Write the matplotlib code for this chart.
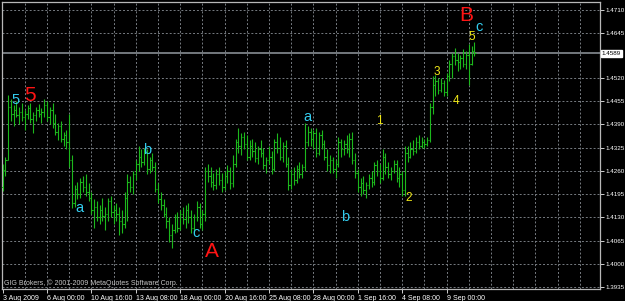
import numpy as np
import matplotlib
matplotlib.use('Agg')
import matplotlib.pyplot as plt
import matplotlib.transforms as mtransforms

# H4 bars, prices in 1e-4 units (pips)
opens = [
    14215, 14262, 14290, 14440, 14420, 14430, 14415, 14425, 14410, 14420,
    14435, 14405, 14415, 14430, 14418, 14425, 14445, 14410, 14430, 14395,
    14370, 14385, 14350, 14360, 14340, 14290, 14170, 14210, 14195, 14230,
    14215, 14200, 14185, 14150, 14160, 14130, 14150, 14135, 14140, 14175,
    14145, 14150, 14140, 14120, 14110, 14185, 14230, 14215, 14250, 14280,
    14300, 14285, 14310, 14265, 14290, 14270, 14210, 14180, 14165, 14140,
    14120, 14080, 14095, 14130, 14100, 14140, 14125, 14150, 14130, 14100,
    14130, 14160, 14110, 14140, 14260, 14245, 14230, 14220, 14250, 14235,
    14215, 14245, 14260, 14225, 14280, 14340, 14330, 14355, 14335, 14300,
    14330, 14315, 14295, 14320, 14310, 14275, 14290, 14300, 14265, 14340,
    14325, 14300, 14330, 14280, 14220, 14250, 14235, 14265, 14250, 14270,
    14340, 14370, 14350, 14365, 14310, 14360, 14335, 14300, 14275, 14290,
    14265, 14280, 14340, 14320, 14335, 14320, 14350, 14290, 14255, 14215,
    14225, 14205, 14220, 14240, 14230, 14275, 14260, 14240, 14300, 14270,
    14250, 14260, 14280, 14240, 14250, 14205, 14310, 14300, 14320, 14315,
    14340, 14330, 14340, 14335, 14345, 14440, 14500, 14510, 14485, 14505,
    14480, 14525, 14560, 14580, 14570, 14565, 14575, 14560, 14585, 14560,
    14595]
highs = [
    14280, 14300, 14471, 14460, 14445, 14455, 14440, 14450, 14430, 14445,
    14450, 14425, 14440, 14448, 14435, 14462, 14455, 14440, 14450, 14420,
    14395, 14400, 14370, 14375, 14420, 14305, 14220, 14230, 14240, 14245,
    14250, 14225, 14200, 14180, 14175, 14165, 14185, 14160, 14185, 14190,
    14165, 14170, 14160, 14150, 14200, 14250, 14245, 14260, 14290, 14330,
    14320, 14325, 14320, 14300, 14310, 14285, 14225, 14200, 14180, 14160,
    14130, 14110, 14140, 14145, 14150, 14160, 14165, 14170, 14150, 14140,
    14175, 14170, 14150, 14270, 14280, 14270, 14255, 14265, 14270, 14255,
    14260, 14275, 14270, 14305, 14350, 14380, 14365, 14370, 14360, 14345,
    14350, 14340, 14330, 14345, 14325, 14300, 14330, 14315, 14350, 14365,
    14355, 14340, 14345, 14300, 14265, 14270, 14275, 14285, 14280, 14395,
    14385, 14380, 14375, 14380, 14370, 14375, 14345, 14320, 14305, 14300,
    14290, 14355, 14350, 14345, 14360, 14365, 14370, 14310, 14265, 14240,
    14245, 14230, 14250, 14260, 14285, 14290, 14280, 14320, 14310, 14285,
    14270, 14290, 14290, 14270, 14260, 14330, 14330, 14340, 14345, 14355,
    14360, 14355, 14350, 14355, 14450, 14525, 14527, 14520, 14520, 14515,
    14535, 14570, 14590, 14605, 14590, 14585, 14600, 14595, 14615, 14610,
    14620]
lows = [
    14203, 14245, 14290, 14400, 14385, 14410, 14390, 14400, 14375, 14405,
    14395, 14365, 14400, 14410, 14395, 14410, 14400, 14390, 14380, 14360,
    14345, 14340, 14330, 14320, 14270, 14155, 14160, 14180, 14185, 14200,
    14190, 14175, 14140, 14100, 14120, 14110, 14120, 14095, 14120, 14130,
    14110, 14120, 14080, 14085, 14100, 14120, 14200, 14195, 14235, 14260,
    14270, 14275, 14250, 14255, 14260, 14200, 14170, 14150, 14130, 14100,
    14060, 14045, 14085, 14090, 14095, 14110, 14100, 14115, 14085, 14090,
    14120, 14100, 14095, 14120, 14230, 14215, 14205, 14210, 14220, 14200,
    14205, 14225, 14210, 14215, 14270, 14310, 14305, 14320, 14290, 14290,
    14300, 14285, 14280, 14300, 14265, 14255, 14280, 14250, 14260, 14310,
    14290, 14285, 14270, 14205, 14210, 14220, 14225, 14240, 14240, 14260,
    14330, 14330, 14320, 14300, 14305, 14320, 14290, 14260, 14255, 14255,
    14240, 14270, 14300, 14305, 14310, 14300, 14280, 14240, 14200, 14190,
    14195, 14185, 14210, 14215, 14220, 14245, 14225, 14235, 14250, 14240,
    14235, 14255, 14230, 14215, 14190, 14190, 14285, 14295, 14305, 14310,
    14320, 14325, 14325, 14330, 14340, 14420, 14470, 14475, 14480, 14470,
    14470, 14510, 14520, 14555, 14540, 14545, 14550, 14545, 14500, 14555,
    14580]
closes = [
    14262, 14290, 14440, 14420, 14430, 14415, 14425, 14410, 14420, 14435,
    14405, 14415, 14430, 14418, 14425, 14445, 14410, 14430, 14395, 14370,
    14385, 14350, 14360, 14340, 14290, 14170, 14210, 14195, 14230, 14215,
    14200, 14185, 14150, 14160, 14130, 14150, 14135, 14140, 14175, 14145,
    14150, 14140, 14120, 14110, 14185, 14230, 14215, 14250, 14280, 14300,
    14285, 14310, 14265, 14290, 14270, 14210, 14180, 14165, 14140, 14120,
    14080, 14095, 14130, 14100, 14140, 14125, 14150, 14130, 14100, 14130,
    14160, 14110, 14140, 14260, 14245, 14230, 14220, 14250, 14235, 14215,
    14245, 14260, 14225, 14280, 14340, 14330, 14355, 14335, 14300, 14330,
    14315, 14295, 14320, 14310, 14275, 14290, 14300, 14265, 14340, 14325,
    14300, 14330, 14280, 14220, 14250, 14235, 14265, 14250, 14270, 14340,
    14370, 14350, 14365, 14310, 14360, 14335, 14300, 14275, 14290, 14265,
    14280, 14340, 14320, 14335, 14320, 14350, 14290, 14255, 14215, 14225,
    14205, 14220, 14240, 14230, 14275, 14260, 14240, 14300, 14270, 14250,
    14260, 14280, 14240, 14250, 14205, 14310, 14300, 14320, 14315, 14340,
    14330, 14340, 14335, 14345, 14440, 14500, 14510, 14485, 14505, 14480,
    14525, 14560, 14580, 14570, 14565, 14575, 14560, 14585, 14560, 14595,
    14589]

date_labels = ['3 Aug 2009', '6 Aug 00:00', '10 Aug 16:00', '13 Aug 08:00',
               '18 Aug 00:00', '20 Aug 16:00', '25 Aug 08:00', '28 Aug 00:00',
               '1 Sep 16:00', '4 Sep 08:00', '9 Sep 00:00']
price_levels = [1.3935, 1.4000, 1.4065, 1.4130, 1.4195, 1.4260, 1.4325,
                1.4390, 1.4455, 1.4520, 1.4645, 1.4710]
last_price = 1.4589

# wave labels: text, bar index, price, kind
wave_text = ['5', '5', 'a', 'b', 'c', 'A', 'a', 'b', '1', '2', '3', '4', '5', 'c', 'B']
wave_x = [4.5, 9.9, 27.6, 52.1, 69.7, 75.5, 110.0, 123.4, 135.7, 146.5, 156.6, 163.4, 169.2, 171.7, 167.0]
wave_y = [1.4458, 1.4472, 1.4156, 1.4318, 1.4086, 1.4033, 1.4411, 1.4131,
          1.4399, 1.4184, 1.4537, 1.4455, 1.4635, 1.4662, 1.4696]
wave_kind = ['minor', 'major', 'minor', 'minor', 'minor', 'major', 'minor', 'minor',
             'sub', 'sub', 'sub', 'sub', 'sub', 'minor', 'major']

o = np.array(opens) / 10000
h = np.array(highs) / 10000
l = np.array(lows) / 10000
c = np.array(closes) / 10000
idx = np.arange(len(c))

fig = plt.figure(figsize=(6.25, 3.01), dpi=100, facecolor='black')
ax = fig.add_axes([2 / 625, 12 / 301, 598 / 625, 287 / 301], facecolor='black')

ax.set_xlim(-0.2, 215.3)
ax.set_ylim(1.39294, 1.47324)

grid_kw = dict(color='#777c82', lw=0.7, ls=(0, (2, 2)), zorder=1)
for lev in price_levels:
    ax.axhline(lev, **grid_kw)
for gx in range(8, 216, 8):
    ax.axvline(gx, **grid_kw)

ax.axhline(last_price, color='#7d8288', lw=1.3, zorder=1.5)

bar_col = '#1cb81c'
ax.vlines(idx, l, h, color=bar_col, lw=0.8, zorder=3)
ax.hlines(o, idx - 0.45, idx, color=bar_col, lw=0.8, zorder=3)
ax.hlines(c, idx, idx + 0.45, color=bar_col, lw=0.8, zorder=3)

styles = {
    'major': dict(color='#ff1414', fontsize=15),
    'minor': dict(color='#33ccee', fontsize=10.5),
    'sub': dict(color='#f0e818', fontsize=8.5),
}
for t, x, y, k in zip(wave_text, wave_x, wave_y, wave_kind):
    ax.text(x, y, t, ha='center', va='center', family='Liberation Sans',
            zorder=5, **styles[k])

ax.yaxis.tick_right()
ax.set_yticks(price_levels)
ax.set_yticklabels([f'{v:.4f}' for v in price_levels])
ax.set_xticks(idx[::16][:len(date_labels)])
ax.set_xticklabels(date_labels)
plt.setp(ax.get_xticklabels(), ha='left')
ax.tick_params(colors='#d0d0d0', length=3, width=0.7)
ax.tick_params(axis='x', labelsize=5, pad=1.5)
ax.tick_params(axis='y', labelsize=4.5, pad=1)
for lab in ax.get_xticklabels() + ax.get_yticklabels():
    lab.set_family('Liberation Sans')
    lab.set_color('white')

for sp in ax.spines.values():
    sp.set_color('#b8b8b8')
    sp.set_linewidth(0.9)

tr = mtransforms.blended_transform_factory(ax.transAxes, ax.transData)
ax.text(1.003, last_price, f'{last_price:.4f}', transform=tr, ha='left', va='center',
        fontsize=4.5, family='Liberation Sans', color='black', clip_on=False,
        bbox=dict(boxstyle='square,pad=0.2', fc='white', ec='white'))

ax.text(0.004, 0.022, 'GIG Brokers, © 2001-2009 MetaQuotes Software Corp.',
        transform=ax.transAxes, ha='left', va='center', fontsize=5,
        family='Liberation Sans', color='#c8c8c8')

fig.savefig('out.png', dpi=100, facecolor='black')
plt.close(fig)
